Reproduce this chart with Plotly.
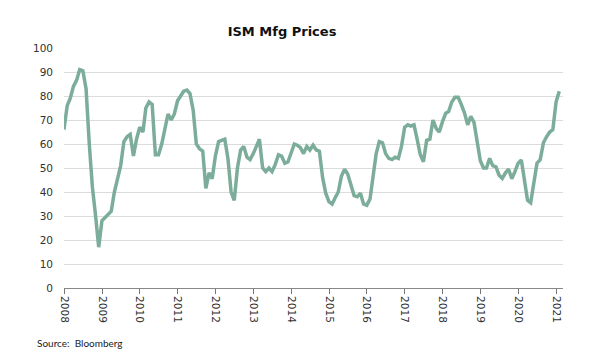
import pandas as pd
import plotly.graph_objects as go

# Monthly ISM Manufacturing Prices index (month-end)
dates = pd.date_range("2007-12-31", "2021-01-31", freq="ME")
prices = [
    66, 76, 79, 84, 86.5, 91, 90.5, 83, 60, 42, 30, 17,
    28, 29.5, 31, 32, 40, 46, 51, 61, 63, 64, 55, 62,
    67, 65, 75, 77.5, 76.5, 55.5, 55.5, 60, 67, 72.5, 70, 72.5,
    78, 80, 82, 82.5, 81, 74, 60, 58, 57, 41.5, 48, 45.5,
    55, 61, 61.5, 62, 54, 40, 36.5, 50, 57.5, 59, 54.5, 53.5,
    56, 59, 62, 50, 48.5, 50, 48.5, 51.5, 55.5, 55, 52, 52.5,
    56.5, 60, 59.5, 58.5, 56, 59, 57.5, 59.5, 57.5, 57, 46, 39.5,
    36, 35, 37.5, 40, 46.5, 49.5, 47.5, 42.5, 38.5, 38, 39.5, 35,
    34.5, 37, 47, 56, 61, 60.5, 56, 54, 53.5, 54.5, 54, 59,
    67, 68, 67.5, 68, 62, 55.5, 52.6, 61.5, 62, 70, 66.5, 65,
    69.3, 72.8, 73.5, 77.5, 79.5, 79.5, 76.5, 73, 68, 71.5, 69, 60,
    53, 50, 50, 54, 51, 50.5, 47, 45.7, 48, 49.5, 45.5, 48.5,
    52, 53.3, 45, 36.5, 35.5, 43, 52, 53.5, 60.5, 63, 65, 66,
    77.5, 82,
]
year_ticks = [f"{y}-01-01" for y in range(2008, 2022)]
year_labels = [str(y) for y in range(2008, 2022)]
y_ticks = list(range(0, 101, 10))

fig = go.Figure()
fig.add_trace(go.Scatter(
    x=dates, y=prices, mode="lines",
    line=dict(color="#7BAD9A", width=3.5),
    showlegend=False,
))

fig.update_layout(
    width=591, height=354,
    margin=dict(l=64, r=28, t=48, b=66),
    paper_bgcolor="white", plot_bgcolor="white",
    title=dict(
        text="<b>ISM Mfg Prices</b>",
        x=282 / 591, xanchor="center", xref="container",
        y=1 - 31 / 354, yanchor="middle", yref="container",
        font=dict(family="DejaVu Sans", size=13, color="#111111"),
    ),
    xaxis=dict(
        type="date",
        range=["2007-12-31", "2021-03-08"],
        tickvals=year_ticks, ticktext=year_labels,
        tickangle=90,
        ticks="outside", ticklen=5, tickcolor="#777777", tickwidth=1,
        showline=True, linecolor="#888888", linewidth=1,
        showgrid=False, zeroline=False,
        tickfont=dict(family="DejaVu Sans", size=10.5, color="#333333"),
    ),
    yaxis=dict(
        range=[0, 100],
        tickvals=y_ticks,
        showgrid=True, gridcolor="#dcdcdc", gridwidth=1,
        zeroline=False, showline=False,
        ticks="", ticklabelstandoff=10,
        tickfont=dict(family="DejaVu Sans", size=10.5, color="#333333"),
    ),
    annotations=[dict(
        text="Source:  Bloomberg",
        xref="paper", yref="paper",
        x=(35 - 64) / 499, y=-(343 - 287.7) / 239.7,
        xanchor="left", yanchor="middle", showarrow=False,
        font=dict(family="Lato", size=10, color="#222222"),
    )],
)

fig.write_html("out.html")
